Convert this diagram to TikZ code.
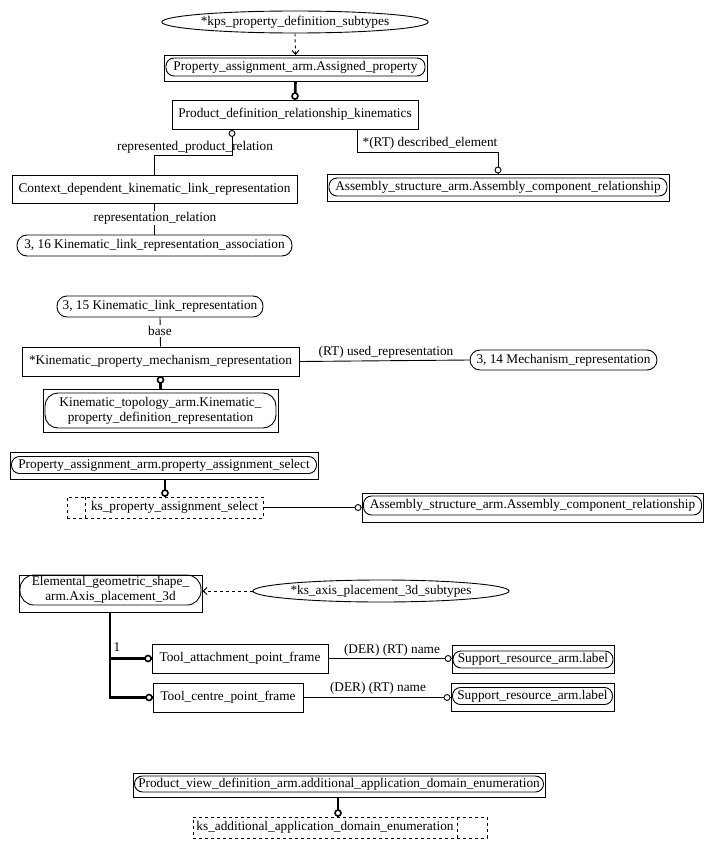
\documentclass[tikz,border=0pt]{standalone}
\usepackage{fontspec}
\setmainfont{Liberation Serif}
\usetikzlibrary{shapes.geometric,arrows.meta}
\tikzset{
 box/.style={draw, rectangle, inner sep=0pt, line width=0.9pt},
 rin/.style={draw, rectangle, rounded corners=8pt, inner sep=0pt, line width=0.9pt},
 ell/.style={draw, ellipse, inner sep=0pt, line width=0.9pt},
 dbox/.style={draw, rectangle, dashed, inner sep=0pt, line width=0.9pt},
 lnk/.style={line width=0.9pt},
 thk/.style={line width=2.6pt},
 dsh/.style={dashed, line width=0.9pt},
 oc/.style={draw, fill=white, line width=1.6pt},
 oct/.style={draw, fill=white, line width=0.9pt},
 lbl/.style={inner sep=1pt, fill=white},
 arr/.style={-{Straight Barb[length=4pt,width=7pt]}}
}
\begin{document}
\begin{tikzpicture}[x=1pt,y=-1pt,font=\fontsize{13.3}{15}\selectfont]
\useasboundingbox (0,0) rectangle (713,848);
% ---------- group 1
\node[ell, minimum width=264pt, minimum height=22pt] (kps) at (295,22) {*kps\_property\_definition\_subtypes};
\node[box, minimum width=263pt, minimum height=26pt] (apO) at (295.5,68.5) {};
\node[rin, minimum width=259pt, minimum height=18pt] (ap) at (295.5,67) {Property\_assignment\_arm.Assigned\_property};
\node[box, minimum width=246pt, minimum height=29pt] (pdr) at (295,114.5) {Product\_definition\_relationship\_kinematics};
\node[box, minimum width=285pt, minimum height=28pt] (cdk) at (154.5,189) {Context\_dependent\_kinematic\_link\_representation};
\node[rin, rounded corners=10pt, minimum width=275pt, minimum height=21pt] (kra) at (154.5,245.5) {3, 16 Kinematic\_link\_representation\_association};
\node[box, minimum width=342pt, minimum height=27pt] (acrO) at (498,187.5) {};
\node[rin, minimum width=338pt, minimum height=18pt] (acr) at (498,187) {Assembly\_structure\_arm.Assembly\_component\_relationship};

\draw[dsh, arr] (kps.south) -- (apO.north);
\draw[thk] (apO.south) -- (pdr.north);
\draw[oc] ([yshift=3.5pt]pdr.north) circle (3pt);

\coordinate (b1) at (232,155);
\coordinate (b2) at (357,152);
\coordinate (b3) at (498,152);
\draw[lnk] (pdr.south -| b1) -- (b1) -- (b1 -| cdk.north) -- (cdk.north);
\draw[oct] ([yshift=-4pt]pdr.south -| b1) circle (3pt);
\node[inner sep=0pt] (l1) at (195,147) {represented\_product\_relation};
\draw[lnk] (pdr.south -| b2) -- (b2) -- (b3) -- (acrO.north);
\draw[oct] ([yshift=3.5pt]acrO.north) circle (3pt);
\node[inner sep=0pt] (l2) at (430,143) {*(RT) described\_element};

\draw[lnk] (cdk.south) -- (kra.north);
\node[lbl] (l3) at (155,218) {representation\_relation};

% ---------- group 2
\node[rin, rounded corners=10pt, minimum width=206pt, minimum height=21pt] (klr) at (160,306.5) {3, 15 Kinematic\_link\_representation};
\node[box, minimum width=277pt, minimum height=29pt] (kpm) at (160.5,361.5) {*Kinematic\_property\_mechanism\_representation};
\node[rin, rounded corners=10pt, minimum width=187pt, minimum height=20pt] (mr) at (563.5,360) {3, 14 Mechanism\_representation};
\node[box, minimum width=235pt, minimum height=43pt] (ktO) at (160.5,410.5) {};
\node[rin, rounded corners=13pt, minimum width=231pt, minimum height=35pt, align=center] (kt) at (160.5,410.5) {Kinematic\_topology\_arm.Kinematic\_\\property\_definition\_representation};

\draw[lnk] (klr.south) -- (kpm.north);
\node[lbl] (l4) at (160,331) {base};
\draw[lnk] (kpm.east) -- (mr.west);
\node[inner sep=0pt] (l5) at (386,352) {(RT) used\_representation};
\draw[thk] (kpm.south) -- (ktO.north);
\draw[oc] ([yshift=-3.5pt]kpm.south) circle (3pt);

% ---------- group 3
\node[box, minimum width=308pt, minimum height=27pt] (pasO) at (164,465.5) {};
\node[rin, minimum width=305pt, minimum height=17pt] (pas) at (164,465) {Property\_assignment\_arm.property\_assignment\_select};
\node[dbox, minimum width=196pt, minimum height=21pt] (kpas) at (165,507.5) {};
\node[inner sep=0pt] (kpast) at (174.5,507.5) {ks\_property\_assignment\_select};
\draw[dsh] ([xshift=19pt]kpas.north west) -- ([xshift=19pt]kpas.south west);
\node[box, minimum width=341pt, minimum height=29pt] (acr2O) at (532.5,507.5) {};
\node[rin, minimum width=338pt, minimum height=19pt] (acr2) at (532.5,505.5) {Assembly\_structure\_arm.Assembly\_component\_relationship};

\draw[thk] (pasO.south -| kpas.north) -- (kpas.north);
\draw[oc] ([yshift=3.5pt]kpas.north) circle (3pt);
\draw[lnk] (kpas.east) -- (acr2O.west);
\draw[oct] ([xshift=-3.5pt]acr2O.west) circle (3pt);

% ---------- group 4
\node[box, minimum width=183pt, minimum height=37pt] (egsO) at (110.5,593.5) {};
\node[rin, rounded corners=14pt, minimum width=181pt, minimum height=30pt, align=center] (egs) at (110.5,590) {Elemental\_geometric\_shape\_\\arm.Axis\_placement\_3d};
\node[ell, minimum width=252pt, minimum height=22pt] (ksax) at (381,591) {*ks\_axis\_placement\_3d\_subtypes};
\draw[dsh, arr] (ksax.west) -- (egsO.east |- ksax.west);

\node[box, minimum width=176pt, minimum height=29pt] (tapf) at (240,658.5) {Tool\_attachment\_point\_frame};
\node[box, minimum width=150pt, minimum height=29pt] (tcpf) at (228,697.5) {Tool\_centre\_point\_frame};
\coordinate (t1) at (110,658.5);
\coordinate (t2) at (110,697.5);
\draw[thk] (egsO.south -| t1) -- (t2) -- (tcpf.west);
\draw[thk] (t1) -- (tapf.west);
\draw[oc] ([xshift=-3.5pt]tapf.west) circle (3pt);
\draw[oc] ([xshift=-3.5pt]tcpf.west) circle (3pt);
\node[inner sep=0pt] (l6) at (117,647) {1};

\node[box, minimum width=162pt, minimum height=28pt] (sr1O) at (533,659) {};
\node[rin, minimum width=160pt, minimum height=17pt] (sr1) at (533,659.5) {Support\_resource\_arm.label};
\node[box, minimum width=163pt, minimum height=28pt] (sr2O) at (532.5,697) {};
\node[rin, minimum width=160pt, minimum height=17pt] (sr2) at (532.5,696) {Support\_resource\_arm.label};
\draw[lnk] (tapf.east) -- (sr1O.west |- tapf.east);
\draw[oct] ([xshift=-3.5pt]sr1O.west |- tapf.east) circle (3pt);
\node[inner sep=0pt] (l7) at (392,650) {(DER) (RT) name};
\draw[lnk] (tcpf.east) -- (sr2O.west |- tcpf.east);
\draw[oct] ([xshift=-3.5pt]sr2O.west |- tcpf.east) circle (3pt);
\node[inner sep=0pt] (l8) at (378,688) {(DER) (RT) name};

% ---------- group 5
\node[box, minimum width=412pt, minimum height=24pt] (pvdO) at (339,785) {};
\node[rin, minimum width=409pt, minimum height=16pt] (pvd) at (339,784) {Product\_view\_definition\_arm.additional\_application\_domain\_enumeration};
\node[dbox, minimum width=294pt, minimum height=21pt] (ksad) at (340,827.5) {};
\node[inner sep=0pt] (ksadt) at (325,827.5) {ks\_additional\_application\_domain\_enumeration};
\draw[dsh] ([xshift=-30pt]ksad.north east) -- ([xshift=-30pt]ksad.south east);
\coordinate (p1) at (338,797);
\draw[thk] (pvdO.south -| p1) -- (ksad.north -| p1);
\draw[oc] ([yshift=3.5pt]ksad.north -| p1) circle (3pt);
\end{tikzpicture}
\end{document}
